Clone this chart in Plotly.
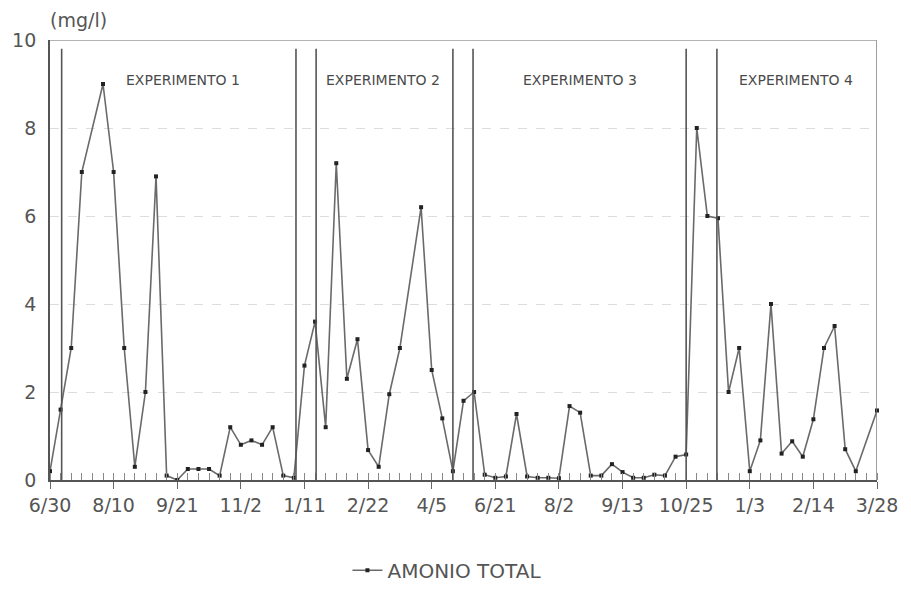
import plotly.graph_objects as go

# ---- data -------------------------------------------------------------
sample_index = list(range(79))
amonio_total = [
    0.2, 1.6, 3.0, 7.0, None, 9.0, 7.0, 3.0, 0.3, 2.0,
    6.9, 0.1, 0.0, 0.25, 0.25, 0.25, 0.1, 1.2, 0.8, 0.9,
    0.8, 1.2, 0.1, 0.05, 2.6, 3.6, 1.2, 7.2, 2.3, 3.2,
    0.68, 0.3, 1.95, 3.0, None, 6.2, 2.5, 1.4, 0.2, 1.8,
    2.0, 0.12, 0.05, 0.08, 1.5, 0.08, 0.05, 0.05, 0.04, 1.68,
    1.53, 0.1, 0.1, 0.36, 0.18, 0.05, 0.05, 0.12, 0.1, 0.53,
    0.58, 8.0, 6.0, 5.95, 2.0, 3.0, 0.2, 0.9, 4.0, 0.6,
    0.88, 0.53, 1.38, 3.0, 3.5, 0.7, 0.2, None, 1.58,
]
tick_index = [0, 6, 12, 18, 24, 30, 36, 42, 48, 54, 60, 66, 72, 78]
tick_labels = ["6/30", "8/10", "9/21", "11/2", "1/11", "2/22", "4/5",
               "6/21", "8/2", "9/13", "10/25", "1/3", "2/14", "3/28"]
boundaries = [1.1, 23.2, 25.1, 38.0, 39.9, 60.0, 62.9]
experiments = ["EXPERIMENTO 1", "EXPERIMENTO 2", "EXPERIMENTO 3", "EXPERIMENTO 4"]
experiment_center = [12.5, 31.4, 50.0, 70.4]
series_name = "AMONIO TOTAL"
y_unit = "(mg/l)"

TXT = "#555555"
FONT = "DejaVu Sans"

fig = go.Figure()
fig.add_trace(go.Scatter(
    x=sample_index, y=amonio_total, mode="lines+markers", name=series_name,
    connectgaps=True,
    line=dict(color="#6a6a6a", width=1.6),
    marker=dict(symbol="square", size=4, color="#222222"),
    cliponaxis=False,
))

shapes = []
for b in boundaries:
    shapes.append(dict(type="line", xref="x", yref="y", x0=b, x1=b, y0=0, y1=9.8,
                       line=dict(color="#555555", width=1.6)))
# right frame and top frame
shapes.append(dict(type="line", xref="x", yref="y", x0=78, x1=78, y0=0, y1=10,
                   line=dict(color="#777777", width=1.4)))
shapes.append(dict(type="line", xref="x", yref="y", x0=0, x1=78, y0=10, y1=10,
                   line=dict(color="#9a9a9a", width=1.3)))

annotations = [dict(text=y_unit, xref="paper", yref="paper", x=-0.003, y=1.045,
                    xanchor="left", yanchor="middle", showarrow=False,
                    font=dict(family=FONT, size=19, color=TXT))]
for name, c in zip(experiments, experiment_center):
    annotations.append(dict(text=name, xref="x", yref="y", x=c, y=9.1,
                            showarrow=False, xanchor="center", yanchor="middle",
                            font=dict(family=FONT, size=14, color="#4a4a4a")))

fig.update_layout(
    width=911, height=602,
    margin=dict(l=46, r=34, t=40, b=116),
    paper_bgcolor="white", plot_bgcolor="white",
    showlegend=True,
    legend=dict(orientation="h", x=0.48, xanchor="center", y=-0.205, yanchor="middle",
                font=dict(family=FONT, size=20, color=TXT)),
    shapes=shapes, annotations=annotations,
    font=dict(family=FONT, color=TXT),
)
fig.update_xaxes(
    range=[0, 78], tickmode="array", tickvals=tick_index, ticktext=tick_labels,
    showgrid=False, zeroline=False, showline=True, linecolor="#555555", linewidth=1.6,
    ticks="outside", ticklen=7, tickcolor="#666666", tickwidth=1.4,
    tickfont=dict(family=FONT, size=19, color=TXT),
    minor=dict(dtick=1, tick0=0, ticks="inside", ticklen=7, tickcolor="#888888",
               tickwidth=1.2, showgrid=False),
)
fig.update_yaxes(
    range=[0, 10], tickvals=[0, 2, 4, 6, 8, 10],
    showgrid=True, gridcolor="#dddddd", griddash="dash", gridwidth=1.4,
    zeroline=False, showline=True, linecolor="#555555", linewidth=1.8,
    ticks="", ticklabelstandoff=8,
    tickfont=dict(family=FONT, size=19, color=TXT),
)

fig.write_html("out.html")
